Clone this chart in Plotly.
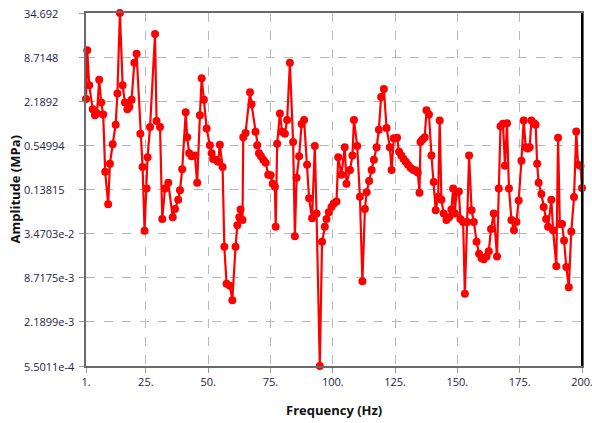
import math
import plotly.graph_objects as go

freq_hz = [
    1.0, 1.5, 2.3, 3.7, 4.6, 5.4, 6.3, 7.1, 7.9, 8.7, 9.9, 10.6, 11.7, 12.9, 13.6,
    14.6, 15.7, 16.6, 17.6, 18.4, 19.3, 20.4, 21.3, 22.8, 23.7, 24.5, 25.3, 25.7,
    26.7, 28.7, 29.3, 30.7, 31.6, 32.7, 34.0, 35.8, 36.7, 38.0, 38.7, 39.6, 41.0,
    41.6, 42.4, 43.4, 44.7, 45.6, 46.7, 47.4, 48.3, 49.4, 50.7, 51.4, 52.0, 53.1,
    54.0, 54.7, 55.8, 56.5, 57.4, 58.7, 59.7, 61.0, 61.7, 62.5, 63.0, 63.8, 64.1,
    65.0, 66.8, 67.4, 69.0, 69.7, 70.4, 71.2, 72.1, 73.1, 74.1, 75.1, 75.9, 76.8,
    77.1, 77.7, 78.8, 79.7, 80.8, 81.7, 82.8, 84.1, 84.8, 85.5, 86.5, 87.5, 88.5,
    89.7, 90.5, 91.7, 92.8, 93.5, 94.8, 95.7, 96.8, 97.5, 98.4, 99.5, 100.4, 101.5,
    102.2, 103.5, 104.8, 105.5, 106.9, 107.9, 108.5, 109.8, 110.9, 111.9, 112.9,
    113.6, 114.6, 115.6, 116.5, 117.6, 118.5, 119.4, 120.5, 121.6, 122.9, 123.6,
    124.5, 125.8, 126.6, 127.5, 128.4, 129.3, 130.2, 131.3, 132.4, 133.3, 134.1,
    134.8, 135.2, 136.0, 136.9, 137.6, 138.6, 139.6, 140.5, 141.3, 142.3, 142.9,
    143.6, 144.5, 145.6, 146.7, 147.6, 148.3, 149.0, 149.6, 150.6, 151.2, 152.3,
    153.0, 153.9, 154.7, 155.7, 156.6, 157.7, 158.7, 159.7, 160.6, 161.7, 162.6,
    163.5, 164.6, 165.9, 166.6, 167.3, 168.3, 169.1, 169.9, 170.7, 171.7, 172.7,
    173.7, 174.6, 175.7, 176.6, 177.4, 178.2, 179.0, 179.7, 180.8, 181.4, 182.0,
    182.6, 183.7, 184.6, 185.6, 186.4, 187.7, 188.4, 189.7, 190.4, 191.1, 192.0,
    192.8, 193.7, 194.7, 195.7, 196.8, 197.7, 198.4, 199.4, 200.0,
]

amplitude_mpa = [
    2.35, 10.8, 3.6, 1.7, 1.41, 1.5, 4.3, 2.1, 1.45, 0.24, 0.087, 0.31, 0.57, 1.05, 2.8,
    34.692, 3.6, 2.1, 1.7, 1.85, 2.3, 7.3, 9.7, 0.79, 0.28, 0.038, 0.143, 0.38,
    0.98, 18.0, 1.18, 0.98, 0.055, 0.143, 0.17, 0.058, 0.075, 0.1, 0.135, 0.26, 1.55,
    0.71, 0.43, 0.39, 0.40, 0.17, 1.41, 4.5, 2.3, 0.93, 0.55, 0.43, 0.36, 0.35,
    0.33, 0.56, 0.28, 0.023, 0.0072, 0.0068, 0.0043, 0.023, 0.045, 0.058, 0.074, 0.053, 0.71,
    0.81, 2.9, 2.0, 0.84, 0.55, 0.43, 0.39, 0.35, 0.32, 0.22, 0.215, 0.165, 0.15,
    0.043, 0.58, 1.49, 0.84, 0.79, 1.22, 7.3, 0.61, 0.032, 0.2, 0.39, 1.07, 1.22,
    0.30, 0.105, 0.056, 0.54, 0.065, 0.00055011, 0.027, 0.043, 0.055, 0.068, 0.08, 0.089, 0.095,
    0.38, 0.22, 0.52, 0.165, 0.255, 0.40, 1.22, 0.54, 0.11, 0.0078, 0.075,
    0.127, 0.18, 0.255, 0.35, 0.52, 0.9, 2.5, 3.2, 0.95, 0.52, 0.255,
    0.69, 0.70, 0.45, 0.40, 0.36, 0.33, 0.30, 0.27, 0.255, 0.25, 0.235,
    0.125, 0.61, 0.66, 0.71, 1.65, 1.45, 0.40, 0.175, 0.072, 0.11, 1.2,
    0.10, 0.065, 0.053, 0.058, 0.074, 0.143, 0.065, 0.127, 0.13, 0.055, 0.05,
    0.0053, 0.05, 0.40, 0.072, 0.05, 0.027, 0.0185, 0.016, 0.0155, 0.017, 0.020,
    0.040, 0.065, 0.017, 0.143, 1.0, 1.08, 0.29, 1.1, 0.143, 0.053, 0.0385,
    0.05, 0.098, 0.34, 1.2, 0.52, 0.50, 0.52, 1.2, 1.1, 1.05, 0.31,
    0.17, 0.12, 0.08, 0.055, 0.043, 0.1, 0.0385, 0.0125, 0.70, 0.047, 0.047,
    0.028, 0.0122, 0.0065, 0.037, 0.109, 0.85, 0.30, 0.29, 0.145,
]

y_tick_values = [34.692, 8.7148, 2.1892, 0.54994, 0.13815, 3.4703e-2, 8.7175e-3, 2.1899e-3, 5.5011e-4]
y_tick_labels = ["34.692", "8.7148", "2.1892", "0.54994", "0.13815", "3.4703e-2", "8.7175e-3", "2.1899e-3", "5.5011e-4"]
x_tick_values = [1, 25, 50, 75, 100, 125, 150, 175, 200]
x_tick_labels = ["1.", "25.", "50.", "75.", "100.", "125.", "150.", "175.", "200."]

x_title = "Frequency (Hz)"
y_title = "Amplitude (MPa)"

tick_font = dict(family="Open Sans, Noto Sans, sans-serif", size=11, color="#23234a")
title_font = dict(family="Open Sans, Noto Sans, sans-serif", size=13, color="#111111")

fig = go.Figure()
fig.add_trace(go.Scatter(
    x=freq_hz, y=amplitude_mpa, mode="lines+markers",
    line=dict(color="#ff0000", width=2.2),
    marker=dict(color="#ff0000", size=8, symbol="circle"),
    cliponaxis=False, showlegend=False, hoverinfo="skip",
))

# y tick labels are left-aligned in the reference: draw them as annotations
annotations = []
for v, t in zip(y_tick_values, y_tick_labels):
    annotations.append(dict(
        text=t, xref="paper", yref="y", x=0, y=math.log10(v), xanchor="left",
        xshift=-64, yanchor="middle", showarrow=False, font=tick_font,
    ))
annotations.append(dict(text="<b>" + x_title + "</b>", xref="paper", yref="paper", x=0.5, y=0,
                        yshift=-44, yanchor="middle", showarrow=False, font=title_font))
annotations.append(dict(text="<b>" + y_title + "</b>", xref="paper", yref="paper", x=0, y=0.5,
                        xshift=-72, xanchor="center", textangle=-90, showarrow=False,
                        font=title_font))

fig.update_layout(
    width=592, height=423,
    margin=dict(l=86, r=10, t=13, b=57),
    paper_bgcolor="white", plot_bgcolor="white",
    hovermode=False,
    xaxis=dict(
        range=[1, 200], tickmode="array", tickvals=x_tick_values, ticktext=x_tick_labels,
        showgrid=True, gridcolor="#b8b8b8", griddash="dash", gridwidth=1,
        showline=True, linecolor="#6a6a6a", linewidth=2, mirror=True,
        ticks="outside", ticklen=5, tickcolor="#9a9a9a", tickfont=tick_font,
        ticklabeloverflow="allow",
        zeroline=False, automargin=False,
    ),
    yaxis=dict(
        type="log",
        range=[math.log10(y_tick_values[-1]), math.log10(y_tick_values[0])],
        tickmode="array", tickvals=y_tick_values, ticktext=y_tick_labels,
        showticklabels=False,
        showgrid=True, gridcolor="#b8b8b8", griddash="dash", gridwidth=1,
        showline=True, linecolor="#6a6a6a", linewidth=2, mirror=True,
        ticks="outside", ticklen=5, tickcolor="#9a9a9a",
        zeroline=False, automargin=False,
    ),
    shapes=[dict(type="line", xref="paper", yref="paper", x0=1, x1=1, y0=0, y1=1,
                 line=dict(color="#000000", width=2))],
    annotations=annotations,
)

fig.write_html("out.html", config={"displayModeBar": False},
               post_script="document.body.style.margin='0';")
